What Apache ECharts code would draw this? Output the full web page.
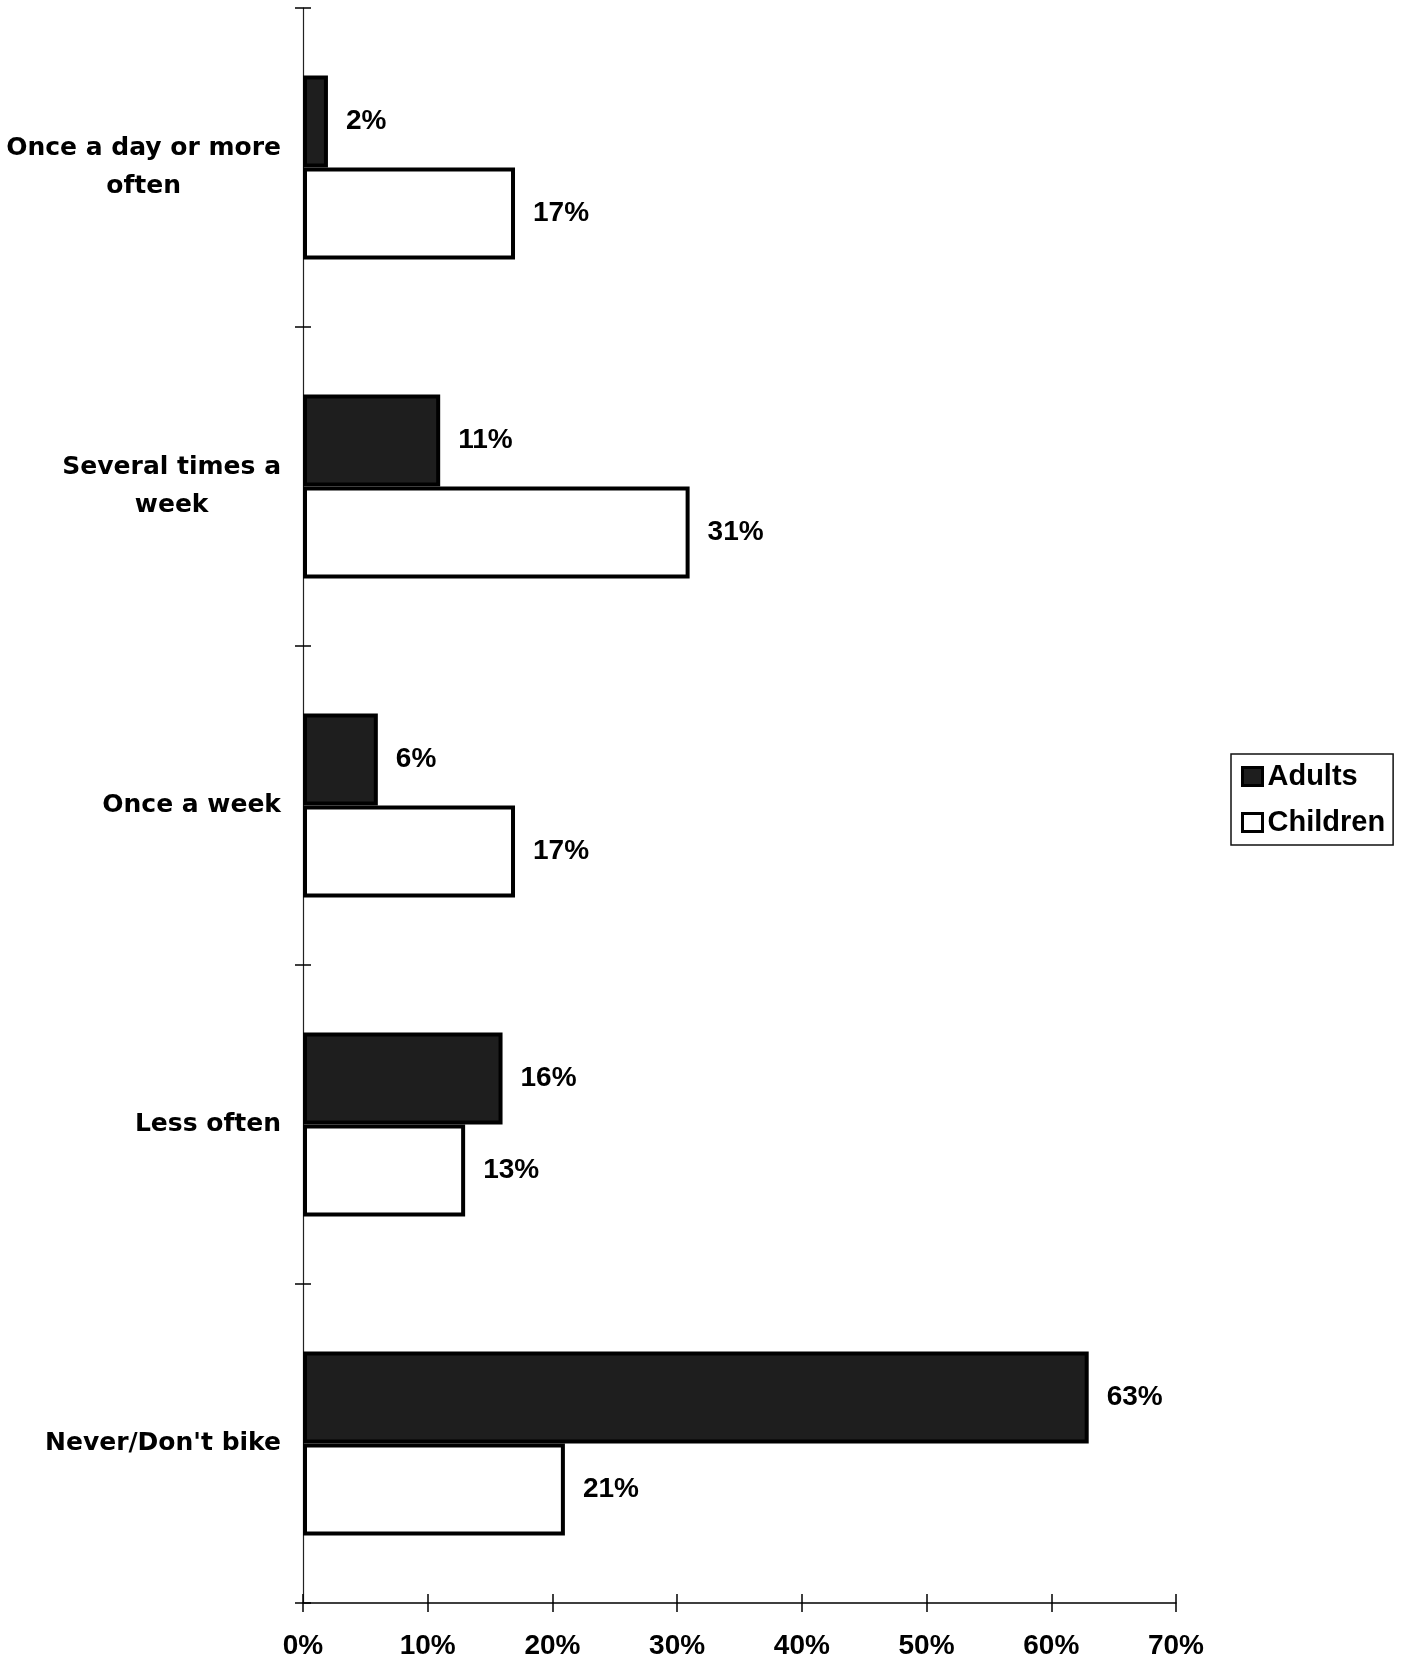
<!DOCTYPE html>
<html>
<head>
<meta charset="utf-8">
<script src="https://cdn.jsdelivr.net/npm/echarts@6/dist/echarts.min.js"></script>
<style>
html,body{margin:0;padding:0;background:#fff;}
#chart{width:1406px;height:1662px;}
</style>
</head>
<body>
<div id="chart"></div>
<script>
const categories = ["Once a day or more\noften", "Several times a\nweek", "Once a week", "Less often", "Never/Don't bike"];
const adults = [2, 11, 6, 16, 63];
const children = [17, 31, 17, 13, 21];
const seriesNames = ["Adults", "Children"];
const xTicks = [0, 10, 20, 30, 40, 50, 60, 70];

const GRID = {left: 303, right: 230, top: 8, bottom: 59};

const chart = echarts.init(document.getElementById('chart'));
const labelStyle = {
  show: true, position: 'right', distance: 18,
  formatter: '{c}%', color: '#000',
  fontFamily: 'Liberation Sans, Arial', fontWeight: 'bold', fontSize: 28
};
chart.setOption({
  animation: false,
  backgroundColor: '#fff',
  grid: [Object.assign({containLabel: false}, GRID), Object.assign({containLabel: false}, GRID)],
  legend: {
    orient: 'vertical', left: 1231, top: 754,
    data: seriesNames,
    icon: 'rect', itemWidth: 20, itemHeight: 18, itemGap: 15,
    padding: [7, 8, 7, 10],
    borderColor: '#111', borderWidth: 1.5,
    itemStyle: {borderWidth: 3, borderColor: '#000'},
    textStyle: {fontFamily: 'Liberation Sans, Arial', fontWeight: 'bold', fontSize: 29, color: '#000', lineHeight: 31}
  },
  xAxis: [{
    gridIndex: 0, type: 'value', min: xTicks[0], max: xTicks[xTicks.length - 1], interval: 10,
    position: 'bottom',
    axisLine: {show: true, lineStyle: {color: '#000', width: 1.5}},
    axisTick: {show: true, inside: false, length: 9, lineStyle: {color: '#000', width: 1.5}},
    splitLine: {show: false},
    axisLabel: {formatter: '{value}%', margin: 29, color: '#000', fontFamily: 'Liberation Sans, Arial', fontWeight: 'bold', fontSize: 28}
  }, {
    gridIndex: 1, type: 'value', min: xTicks[0], max: xTicks[xTicks.length - 1], interval: 10,
    position: 'bottom',
    axisLine: {show: false},
    axisTick: {show: true, inside: true, length: 9, lineStyle: {color: '#000', width: 1.5}},
    splitLine: {show: false},
    axisLabel: {show: false}
  }],
  yAxis: [{
    gridIndex: 0, type: 'category', inverse: true, data: categories,
    position: 'left',
    axisLine: {show: true, lineStyle: {color: '#222', width: 1.2}},
    axisTick: {show: true, length: 8, lineStyle: {color: '#000', width: 1.5}},
    axisLabel: {
      margin: 22, color: '#000', align: 'right',
      formatter: function (v) { return v.split('\n').map(function (s) { return '{c|' + s + '}'; }).join('\n'); },
      rich: {c: {align: 'center', fontFamily: 'DejaVu Sans', fontWeight: 'bold', fontSize: 25, lineHeight: 38, color: '#000'}}
    }
  }, {
    gridIndex: 1, type: 'category', inverse: true, data: categories,
    position: 'left',
    axisLine: {show: false},
    axisTick: {show: true, inside: true, length: 8, lineStyle: {color: '#000', width: 1.5}},
    axisLabel: {show: false}
  }],
  series: [{
    name: seriesNames[0], type: 'bar', data: adults, xAxisIndex: 0, yAxisIndex: 0,
    barWidth: 92, barGap: '0%',
    itemStyle: {color: '#1e1e1e', borderColor: '#000', borderWidth: 4},
    label: labelStyle
  }, {
    name: seriesNames[1], type: 'bar', data: children, xAxisIndex: 0, yAxisIndex: 0,
    barWidth: 92, barGap: '0%',
    itemStyle: {color: '#ffffff', borderColor: '#000', borderWidth: 4},
    label: labelStyle
  }]
});
</script>
</body>
</html>
